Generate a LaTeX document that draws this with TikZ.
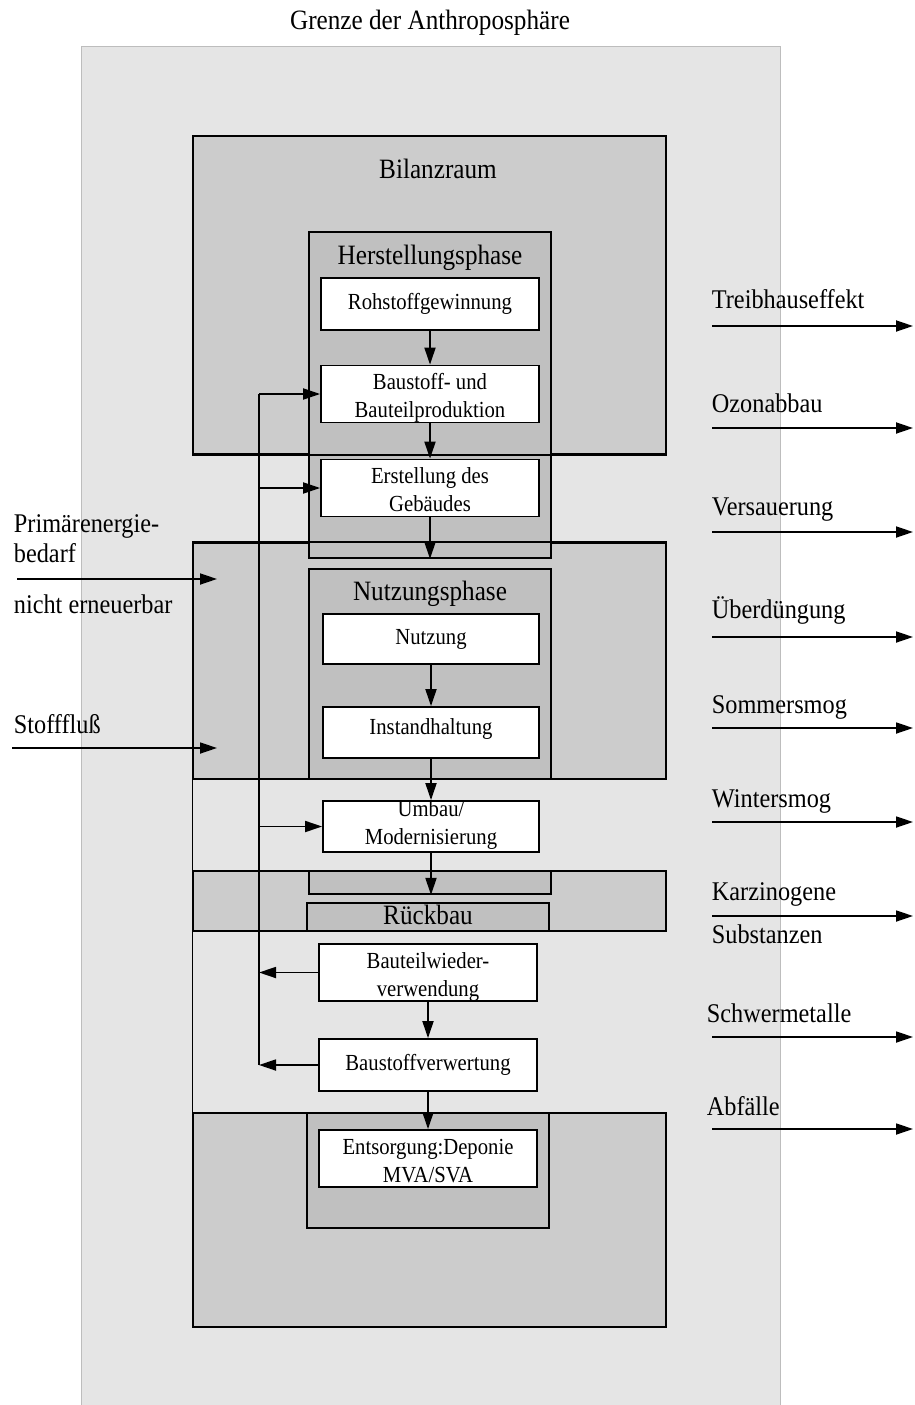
\documentclass[tikz,border=0pt]{standalone}
\usepackage{fontspec}
\setmainfont{Liberation Serif}[FakeStretch=0.9]
\usetikzlibrary{arrows.meta}
\definecolor{outerbg}{HTML}{E5E5E5}
\definecolor{outerln}{HTML}{BDBDBD}
\definecolor{regbg}{HTML}{CCCCCC}
\definecolor{phasebg}{HTML}{C0C0C0}
\newcommand\bxfont{\fontsize{23}{28}\selectfont}
\newcommand\hdfont{\fontsize{28}{33}\selectfont}
\newcommand\lbfont{\fontsize{27}{32}\selectfont}
\begin{document}
\begin{tikzpicture}[x=1pt,y=-1pt,line width=1.8pt,
  outerbox/.style={draw=outerln,line width=1pt,fill=outerbg,inner sep=0,minimum width=699pt,minimum height=1359pt},
  region/.style={draw=black,fill=regbg,inner sep=0,minimum width=473pt},
  phase/.style={draw=black,fill=phasebg,inner sep=0,minimum width=242pt},
  wbox/.style={draw=black,fill=white,inner sep=0,align=center,font=\bxfont,minimum width=218pt},
  twoline/.style={text height=52pt,text depth=5pt},
  head/.style={font=\hdfont,anchor=base,inner sep=0},
  lbl/.style={font=\lbfont,anchor=base west,inner sep=0},
  arr/.style={-{Triangle[length=17pt,width=11pt]}},
]
\useasboundingbox (0,0) rectangle (914,1405);

% outer boundary
\node[outerbox] (outer) at (430.5,726.5) {};
\node[head] (title) at (430,30) {Grenze der Anthroposphäre};

% regions
\node[region,minimum height=318pt] (bilanz) at (429.5,295) {};
\node[region,minimum height=236pt] (nreg) at (429.5,661) {};
\node[region,minimum height=60pt] (rreg) at (429.5,901) {};
\node[region,minimum height=214pt] (ereg) at (429.5,1220) {};
\draw[line width=1pt] (nreg.south west) -- (rreg.north west);
\draw[line width=1pt] (rreg.south west) -- (ereg.north west);

% phase boxes
\node[phase,minimum height=326pt] (hphase) at (430,395) {};
\draw (bilanz.south west) -- (bilanz.south east);
\draw (nreg.north west) -- (nreg.north east);
\node[phase,minimum height=210pt] (nphase) at (430,674) {};
\node[phase,minimum height=23pt] (rsmall) at (430,882.5) {};
\node[phase,minimum height=28pt,font=\hdfont,text height=19pt,text depth=5pt] (rbox) at (428,917) {Rückbau};
\node[phase,minimum height=115pt] (einner) at (428,1170.5) {};

% headings
\node[head] (tbilanz) at (438,178) {Bilanzraum};
\node[head] (thphase) at (430,264) {Herstellungsphase};
\node[head] (tnphase) at (430,600) {Nutzungsphase};

% white boxes
\node[wbox,minimum height=52pt] (rohstoff) at (430,304) {Rohstoffgewinnung};
\node[wbox,minimum height=52pt,twoline] (baustoff) at (430,394) {Baustoff- und\\Bauteilproduktion};
\node[wbox,minimum height=52pt,twoline] (erstellung) at (430,488) {Erstellung des\\Gebäudes};
\node[wbox,minimum width=216pt,minimum height=50pt] (nutzung) at (431,639) {Nutzung};
\node[wbox,minimum width=216pt,minimum height=51pt,text height=12pt,text depth=9pt] (instand) at (431,732.5) {Instandhaltung};
\node[wbox,minimum width=216pt,minimum height=51pt,text height=40pt,text depth=5pt] (umbau) at (431,826.5) {Umbau/\\Modernisierung};
\node[wbox,minimum height=51pt,twoline] (wieder) at (428,972.5) {Bauteilwieder-\\verwendung};
\node[wbox,minimum height=52pt] (verwertung) at (428,1065) {Baustoffverwertung};
\node[wbox,minimum height=51pt,twoline] (entsorgung) at (428,1158.5) {Entsorgung:Deponie\\MVA/SVA};

% main flow
\draw[arr] (rohstoff.south) -- (baustoff.north);
\draw[arr] (baustoff.south) -- (erstellung.north);
\draw[arr] (erstellung.south) -- (erstellung.south |- hphase.south);
\draw[arr] (nutzung.south) -- (instand.north);
\draw[arr] (instand.south) -- (umbau.north);
\draw[arr] (umbau.south) -- (umbau.south |- rsmall.south);
\draw[arr] (wieder.south) -- (verwertung.north);
\draw[arr] (verwertung.south) -- (entsorgung.north);

% feedback loop
\coordinate (fbtop) at (259,394);
\coordinate (fbbot) at (259,1065);
\draw (fbtop) -- (fbbot);
\draw[arr] (fbtop) -- (baustoff.west);
\draw[arr] (erstellung.west -| fbtop) -- (erstellung.west);
\draw[arr] (umbau.west -| fbtop) -- (umbau.west);
\draw[arr] (wieder.west) -- (wieder.west -| fbtop);
\draw[arr] (verwertung.west) -- (fbbot);

% inputs (left)
\node[lbl] (lpe1) at (13,532) {Primärenergie-};
\node[lbl] (lpe2) at (13,562) {bedarf};
\node[lbl] (lpe3) at (13,613) {nicht erneuerbar};
\node[lbl] (lsf) at (13,733) {Stofffluß};
\coordinate (pein) at (17,579);
\coordinate (peend) at (217,579);
\coordinate (sfin) at (12,748);
\coordinate (sfend) at (217,748);
\draw[arr] (pein) -- (peend);
\draw[arr] (sfin) -- (sfend);

% outputs (right)
\foreach \nm/\txt/\yb/\ya/\xl in {
  o1/Treibhauseffekt/308/326/711,
  o2/Ozonabbau/412/428/711,
  o3/Versauerung/515/532/711,
  o4/Überdüngung/618/637/711,
  o5/Sommersmog/713/728/711,
  o6/Wintersmog/807/822/711,
  o7/Karzinogene/900/916/711,
  o8/Schwermetalle/1022/1037/706,
  o9/Abfälle/1115/1129/706}{
  \node[lbl] (\nm) at (\xl,\yb) {\txt};
  \coordinate (\nm s) at (712,\ya);
  \coordinate (\nm e) at (913,\ya);
  \draw[arr] (\nm s) -- (\nm e);
}
\node[lbl] (o7b) at (711,943) {Substanzen};
\end{tikzpicture}
\end{document}
